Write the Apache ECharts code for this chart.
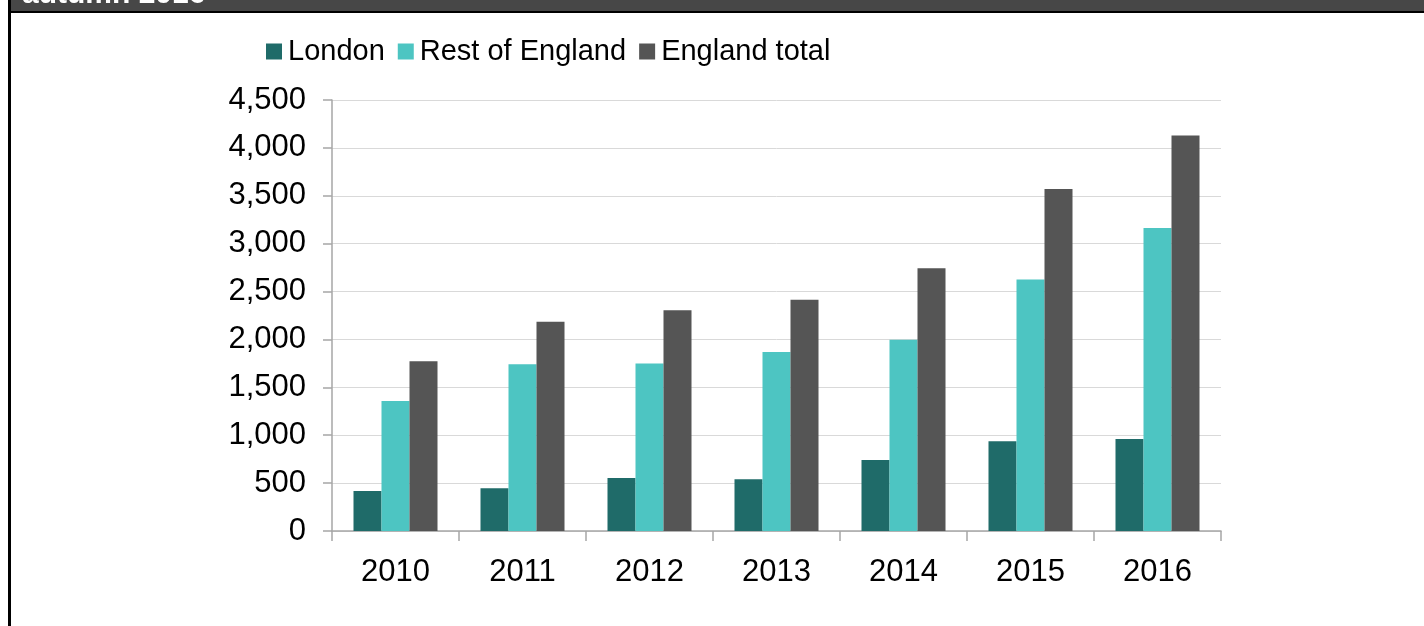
<!DOCTYPE html>
<html>
<head>
<meta charset="utf-8">
<script src="https://cdn.jsdelivr.net/npm/echarts@6/dist/echarts.min.js"></script>
<style>
html,body{margin:0;padding:0;background:#fff;}
#chart{width:1424px;height:626px;}
</style>
</head>
<body>
<div id="chart"></div>
<script>
const categories = ['2010','2011','2012','2013','2014','2015','2016'];
const london = [418, 446, 554, 541, 740, 936, 961];
const restOfEngland = [1357, 1740, 1748, 1869, 1998, 2627, 3164];
const englandTotal = [1772, 2184, 2306, 2414, 2743, 3571, 4129];
const seriesNames = ['London', 'Rest of England', 'England total'];
const titleText = 'autumn 2016';

const FONT = '"Liberation Sans", Arial, sans-serif';
const chart = echarts.init(document.getElementById('chart'), null, {renderer:'canvas'});

chart.setOption({
  animation: false,
  backgroundColor: '#ffffff',
  color: ['#1F6B69', '#4DC5C2', '#555555'],
  graphic: [
    {type:'rect', shape:{x:8, y:0, width:1416, height:11}, style:{fill:'#474747'}, z:10},
    {type:'text', left:22, top:-20, style:{text:titleText, fill:'#ffffff', font:'bold 30px "Liberation Sans", Arial, sans-serif'}, z:11},
    {type:'rect', shape:{x:8, y:11, width:1416, height:2}, style:{fill:'#000000'}, z:10},
    {type:'rect', shape:{x:8, y:0, width:3, height:626}, style:{fill:'#000000'}, z:10}
  ],
  legend: {
    left: 261,
    top: 32,
    itemWidth: 16,
    itemHeight: 16,
    itemGap: 13,
    icon: 'rect',
    textStyle: {fontFamily: FONT, fontSize: 29, color: '#000', padding:[0,0,0,1]},
    data: seriesNames
  },
  grid: {left: 332, right: 203, top: 100, bottom: 95, containLabel: false},
  xAxis: {
    type: 'category',
    data: categories,
    axisLine: {lineStyle: {color: '#a6a6a6', width: 1.5}},
    axisTick: {show: true, length: 10, lineStyle: {color: '#a6a6a6', width: 1.5}},
    axisLabel: {fontFamily: FONT, fontSize: 31, color: '#000', margin: 26},
    splitLine: {show: false}
  },
  yAxis: {
    type: 'value',
    min: 0, max: 4500, interval: 500,
    axisLine: {show: true, lineStyle: {color: '#a6a6a6', width: 1.5}},
    axisTick: {show: true, length: 9, lineStyle: {color: '#a6a6a6', width: 1.5}},
    axisLabel: {fontFamily: FONT, fontSize: 31, color: '#000', margin: 26,
      formatter: v => v.toLocaleString('en-US')},
    splitLine: {lineStyle: {color: '#d9d9d9', width: 1}}
  },
  series: [
    {name: seriesNames[0], type: 'bar', data: london, barWidth: 28, barGap: '0%'},
    {name: seriesNames[1], type: 'bar', data: restOfEngland, barWidth: 28, barGap: '0%'},
    {name: seriesNames[2], type: 'bar', data: englandTotal, barWidth: 28, barGap: '0%'}
  ]
});
</script>
</body>
</html>
